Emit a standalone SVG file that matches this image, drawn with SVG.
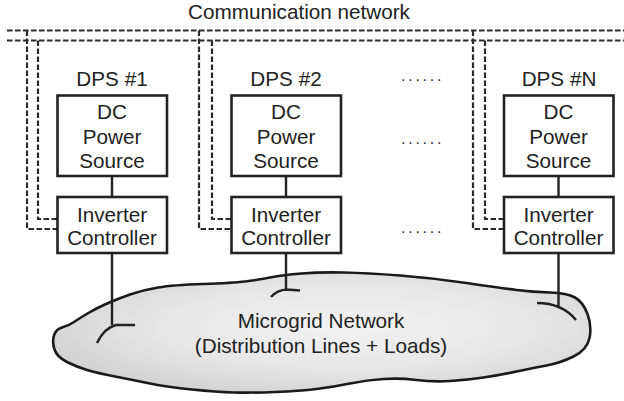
<svg xmlns="http://www.w3.org/2000/svg" width="624" height="401" viewBox="0 0 624 401">
<style>
text{font-family:"Liberation Sans",Arial,sans-serif;fill:#222;text-anchor:middle}
.t{font-size:20.7px}
.box{fill:#fff;stroke:#222;stroke-width:2.6}
.dash{fill:none;stroke:#2a2a2a;stroke-width:2.2;stroke-dasharray:5.5 2.5}
.wire{fill:none;stroke:#222;stroke-width:2.4}
.dots{font-size:16px;letter-spacing:2.75px;text-anchor:start;fill:#333}
</style>
<defs>
<radialGradient id="cg" cx="0.55" cy="0.45" r="0.6">
<stop offset="0" stop-color="#f2f2f2"/>
<stop offset="0.6" stop-color="#e6e6e6"/>
<stop offset="1" stop-color="#d2d2d2"/>
</radialGradient>
</defs>
<g id="cloud">
<path d="M54,335.5 Q56,329 62,327.5 Q68,326 74,322 Q80,318 87.5,313.5 Q95,309 106,304 Q117,299 130,294.5 Q143,290 158,287.5 Q173,285 203,284 Q233,283 245,281.5 Q257,280 270,277.5 Q283,275 301.5,273.5 Q320,272 343.5,272.5 Q367,273 400,275.5 Q433,278 466.5,283 Q500,288 516.5,290 Q533,292 550,292.5 Q567,293 575,297.5 Q583,302 587.5,314 Q592,326 589.5,338 Q587,350 573.5,356.5 Q560,363 546.5,365.5 Q533,368 516.5,371.5 Q500,375 483.5,377.5 Q467,380 450,381 Q433,382 416.5,380 Q400,378 383.5,379 Q367,380 350,383.5 Q333,387 316.5,389 Q300,391 275,392 Q250,393 233.5,392.5 Q217,392 192,389.5 Q167,387 150,383.5 Q133,380 115,376.5 Q97,373 87,370 Q77,367 67,362 Q57,357 54.5,349.5 Q52,342 54,335.5 Z" fill="url(#cg)" stroke="#1a1a1a" stroke-width="2.6" stroke-linejoin="round"/>
<text class="t" x="321" y="328">Microgrid Network</text>
<text class="t" x="321" y="353">(Distribution Lines + Loads)</text>
</g>
<g id="connectors">
<path class="dash" d="M7,30.5 H624 M7,40.5 H624"/>
<path class="dash" d="M27,30.5 V229 H57 M38,40.5 V219 H57"/>
<path class="dash" d="M199,30.5 V229 H231 M212,40.5 V219 H231"/>
<path class="dash" d="M473,30.5 V229 H504 M485,40.5 V219 H504"/>
<path class="wire" d="M112,176 V197 M286,176 V197 M558.5,176 V197"/>
<path class="wire" d="M112,253 V325 M97,343 Q104,328 116,325 L135,325"/>
<path class="wire" d="M286,253 V290 M271,297 Q277,290 287,289.5 L300,290.5"/>
<path class="wire" d="M558.5,253 V306 M537,303 Q562,303 576,320"/>
</g>
<text class="t" x="299" y="19">Communication network</text>
<g id="dps1">
<text class="t" x="112" y="85.5">DPS #1</text>
<rect class="box" x="57.5" y="95.5" width="109.5" height="80.5"/>
<text class="t" x="112" y="119">DC</text>
<text class="t" x="112" y="143.5">Power</text>
<text class="t" x="112" y="168">Source</text>
<rect class="box" x="57.5" y="197" width="109.5" height="56"/>
<text class="t" x="112" y="221.5">Inverter</text>
<text class="t" x="112" y="245">Controller</text>
</g>
<g id="dps2">
<text class="t" x="286" y="85.5">DPS #2</text>
<rect class="box" x="231.5" y="95.5" width="109.5" height="80.5"/>
<text class="t" x="286" y="119">DC</text>
<text class="t" x="286" y="143.5">Power</text>
<text class="t" x="286" y="168">Source</text>
<rect class="box" x="231.5" y="197" width="109.5" height="56"/>
<text class="t" x="286" y="221.5">Inverter</text>
<text class="t" x="286" y="245">Controller</text>
</g>
<g id="dpsN">
<text class="t" x="559" y="85.5">DPS #N</text>
<rect class="box" x="504" y="95.5" width="109.5" height="80.5"/>
<text class="t" x="558.5" y="119">DC</text>
<text class="t" x="558.5" y="143.5">Power</text>
<text class="t" x="558.5" y="168">Source</text>
<rect class="box" x="504" y="197" width="109.5" height="56"/>
<text class="t" x="558.5" y="221.5">Inverter</text>
<text class="t" x="558.5" y="245">Controller</text>
</g>
<g id="ellipsis">
<text class="dots" x="401" y="80.5">......</text>
<text class="dots" x="401" y="143.5">......</text>
<text class="dots" x="401" y="232.5">......</text>
</g>
</svg>
